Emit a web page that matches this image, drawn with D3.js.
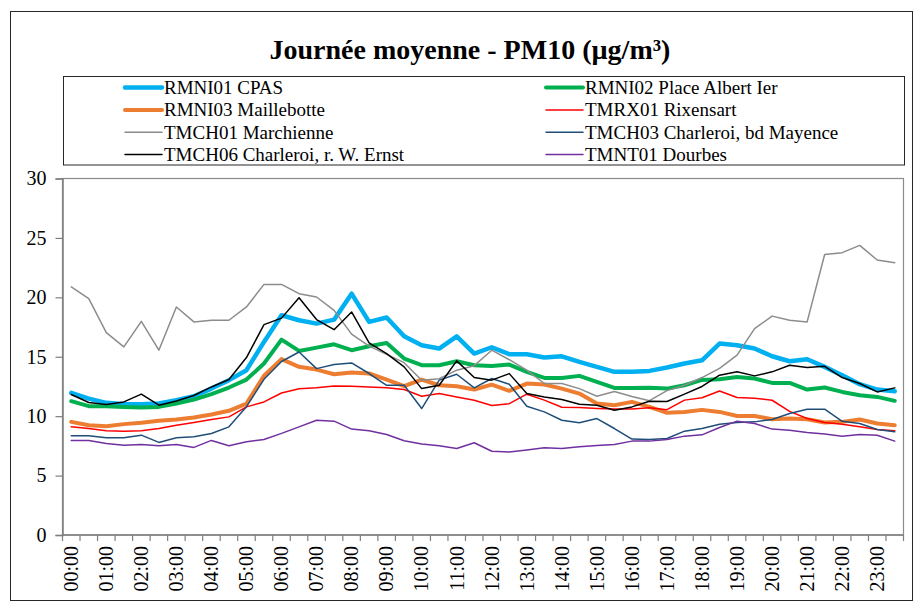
<!DOCTYPE html>
<html>
<head>
<meta charset="utf-8">
<script src="https://cdn.jsdelivr.net/npm/d3@7"></script>
<style>
  html, body { margin: 0; padding: 0; background: #fff; }
  svg { display: block; }
  text { font-family: "Liberation Serif", "Times New Roman", serif; fill: #000; }
</style>
</head>
<body>
<svg id="chart" width="914" height="607"></svg>
<script>
const categories = [
  "00:00","00:30","01:00","01:30","02:00","02:30","03:00","03:30",
  "04:00","04:30","05:00","05:30","06:00","06:30","07:00","07:30",
  "08:00","08:30","09:00","09:30","10:00","10:30","11:00","11:30",
  "12:00","12:30","13:00","13:30","14:00","14:30","15:00","15:30",
  "16:00","16:30","17:00","17:30","18:00","18:30","19:00","19:30",
  "20:00","20:30","21:00","21:30","22:00","22:30","23:00","23:30"
];
const tickLabels = categories.filter(c => c.endsWith(":00"));
const yTicks = [0, 5, 10, 15, 20, 25, 30];

const rmni01 = [11.96,11.48,11.12,11.0,11.0,11.06,11.34,11.68,12.32,13.03,13.87,16.25,18.49,
  18.07,17.79,18.12,20.31,17.93,18.3,16.72,15.97,15.69,16.72,15.27,15.8,
  15.21,15.21,14.93,15.04,14.57,14.15,13.73,13.73,13.81,14.09,14.43,14.7,
  16.11,15.97,15.69,15.04,14.62,14.79,14.15,13.45,12.69,12.24,12.1];
const rmni02 = [11.26,10.84,10.84,10.78,10.73,10.78,11.06,11.39,11.85,12.41,13.08,14.43,16.44,
  15.49,15.77,16.05,15.55,15.88,16.16,14.85,14.29,14.29,14.62,14.29,14.22,
  14.34,13.73,13.22,13.22,13.39,12.88,12.38,12.38,12.4,12.32,12.6,13.05,
  13.11,13.3,13.17,12.8,12.8,12.24,12.41,12.04,11.76,11.62,11.29];
const rmni03 = [9.52,9.24,9.16,9.33,9.44,9.61,9.72,9.89,10.14,10.45,11.06,13.4,14.8,
  14.15,13.92,13.53,13.67,13.59,13.08,12.52,13.08,12.6,12.52,12.24,12.65,
  12.13,12.74,12.66,12.32,11.9,11.06,10.92,11.2,10.78,10.28,10.36,10.53,
  10.36,10.02,10.02,9.74,9.8,9.74,9.46,9.52,9.72,9.38,9.24];
const tmrx01 = [9.1,8.97,8.77,8.74,8.77,8.97,9.24,9.47,9.72,9.94,10.78,11.2,11.95,
  12.3,12.4,12.54,12.52,12.46,12.4,12.24,11.68,11.9,11.62,11.34,10.9,
  11.05,11.85,11.35,10.75,10.73,10.65,10.6,10.6,10.7,10.55,11.35,11.55,
  12.12,11.57,11.51,11.34,10.4,9.8,9.46,9.32,9.1,8.88,8.77];
const tmch01 = [20.87,19.89,17.03,15.83,17.98,15.55,19.19,17.93,18.07,18.07,19.19,21.09,21.09,
  20.31,20.03,18.9,16.9,15.9,15.2,14.5,13.03,13.15,13.87,14.25,15.55,
  14.75,13.87,12.75,12.75,12.32,11.68,12.08,11.65,11.3,12.15,12.6,13.25,
  14.02,15.13,17.37,18.42,18.07,17.93,23.6,23.76,24.37,23.14,22.91];
const tmch03 = [8.35,8.35,8.18,8.18,8.4,7.79,8.18,8.26,8.54,9.1,10.8,13.1,14.6,
  15.4,14.0,14.34,14.48,13.59,12.6,12.6,10.64,13.03,13.53,12.38,13.17,
  12.69,10.84,10.36,9.66,9.44,9.8,8.96,8.07,8.04,8.12,8.74,8.96,
  9.32,9.46,9.52,9.72,10.22,10.59,10.59,9.57,9.38,8.88,8.68];
const tmch06 = [11.82,11.15,10.98,11.2,11.85,10.92,11.28,11.74,12.46,13.08,14.93,17.7,18.25,
  19.97,18.13,17.28,18.77,16.16,15.27,14.15,12.32,12.6,14.65,13.25,13.03,
  13.58,11.9,11.62,11.4,11.0,10.92,10.5,10.78,11.26,11.23,11.85,12.5,
  13.45,13.73,13.39,13.73,14.29,14.09,14.2,13.25,12.75,12.04,12.38];
const tmnt01 = [7.96,7.96,7.7,7.56,7.62,7.51,7.62,7.37,7.96,7.51,7.85,8.04,8.55,
  9.1,9.66,9.58,8.91,8.77,8.46,7.93,7.65,7.51,7.28,7.76,7.05,
  6.98,7.15,7.34,7.28,7.42,7.53,7.62,7.9,7.9,8.04,8.32,8.43,
  9.05,9.58,9.38,8.91,8.82,8.63,8.49,8.32,8.46,8.4,7.9];

const seriesNames = [
  "RMNI01 CPAS", "RMNI02 Place Albert Ier",
  "RMNI03 Maillebotte", "TMRX01 Rixensart",
  "TMCH01 Marchienne", "TMCH03 Charleroi, bd Mayence",
  "TMCH06 Charleroi, r. W. Ernst", "TMNT01 Dourbes"
];
const seriesValues = [rmni01, rmni02, rmni03, tmrx01, tmch01, tmch03, tmch06, tmnt01];
const seriesColors = ["#00B0F0", "#00B050", "#ED7D31", "#FF0000", "#8C8C8C", "#1F4E79", "#000000", "#7030A0"];
const seriesWidths = [4.5, 4, 4, 1.5, 1.5, 1.5, 1.5, 1.5];

const svg = d3.select("#chart");
const plot = { left: 62.5, right: 903.5, top: 178.5, bottom: 535 };

// outer border
svg.append("rect").attr("x", 10.5).attr("y", 11.5).attr("width", 902).attr("height", 589)
  .attr("fill", "#fff").attr("stroke", "#262626").attr("stroke-width", 1);

// title
svg.append("text").attr("x", 470).attr("y", 59).attr("text-anchor", "middle")
  .style("font-size", "28px").style("font-weight", "bold")
  .text("Journée moyenne - PM10 (µg/m³)");

const x = d3.scaleBand().domain(categories).range([plot.left, plot.right]).padding(0);
const y = d3.scaleLinear().domain([0, 30]).range([plot.bottom, plot.top]);

// plot border (top/right)
svg.append("rect").attr("x", plot.left).attr("y", plot.top)
  .attr("width", plot.right - plot.left).attr("height", plot.bottom - plot.top)
  .attr("fill", "none").attr("stroke", "#8C8C8C").attr("stroke-width", 1.2);

// y axis
const yAxis = d3.axisLeft(y).tickValues(yTicks).tickSize(7).tickPadding(9).tickFormat(d3.format("d"));
const gy = svg.append("g").attr("transform", `translate(${plot.left},0)`).call(yAxis);
gy.select(".domain").attr("stroke", "#7F7F7F").attr("stroke-width", 1.5);
gy.selectAll(".tick line").attr("stroke", "#7F7F7F").attr("stroke-width", 1.2);
gy.selectAll(".tick text").style("font-size", "20px").style("font-family", "'Liberation Serif', serif").attr("fill", "#000");

// x axis
const gx = svg.append("g");
gx.append("line").attr("x1", plot.left).attr("x2", plot.right).attr("y1", plot.bottom).attr("y2", plot.bottom)
  .attr("stroke", "#7F7F7F").attr("stroke-width", 1.5);
const boundaries = categories.map(c => x(c)).concat([x(categories[categories.length - 1]) + x.bandwidth()]);
gx.selectAll("line.tk").data(boundaries).enter().append("line").attr("class", "tk")
  .attr("x1", d => d).attr("x2", d => d).attr("y1", plot.bottom).attr("y2", plot.bottom + 6)
  .attr("stroke", "#7F7F7F").attr("stroke-width", 1.2);
gx.selectAll("text").data(tickLabels).enter().append("text")
  .attr("transform", d => `translate(${x(d) + x.bandwidth() / 2},${plot.bottom + 11}) rotate(-90)`)
  .attr("text-anchor", "end").attr("dy", "0.34em")
  .style("font-size", "20px").text(d => d);

// lines
const line = d3.line().x((d, i) => x(categories[i]) + x.bandwidth() / 2).y(d => y(d));
seriesValues.forEach((vals, k) => {
  svg.append("path").datum(vals).attr("d", line)
    .attr("fill", "none").attr("stroke", seriesColors[k]).attr("stroke-width", seriesWidths[k])
    .attr("stroke-linejoin", "round").attr("stroke-linecap", "round");
});

// legend
svg.append("rect").attr("x", 63.5).attr("y", 76.5).attr("width", 841).attr("height", 88.5)
  .attr("fill", "#fff").attr("stroke", "#262626").attr("stroke-width", 1);
const legCols = [125, 546];
const legRows = [87.5, 110, 132.3, 154.6];
seriesNames.forEach((name, k) => {
  const lx = legCols[k % 2], ly = legRows[Math.floor(k / 2)];
  const g = svg.append("g").attr("transform", `translate(${lx},${ly})`);
  g.append("line").attr("x1", 0).attr("x2", 37).attr("y1", 0).attr("y2", 0)
    .attr("stroke", seriesColors[k]).attr("stroke-width", seriesWidths[k]).attr("stroke-linecap", "round");
  g.append("text").attr("x", 39).attr("y", 0).attr("dy", "0.34em")
    .style("font-size", "19px").text(name);
});
</script>
</body>
</html>
